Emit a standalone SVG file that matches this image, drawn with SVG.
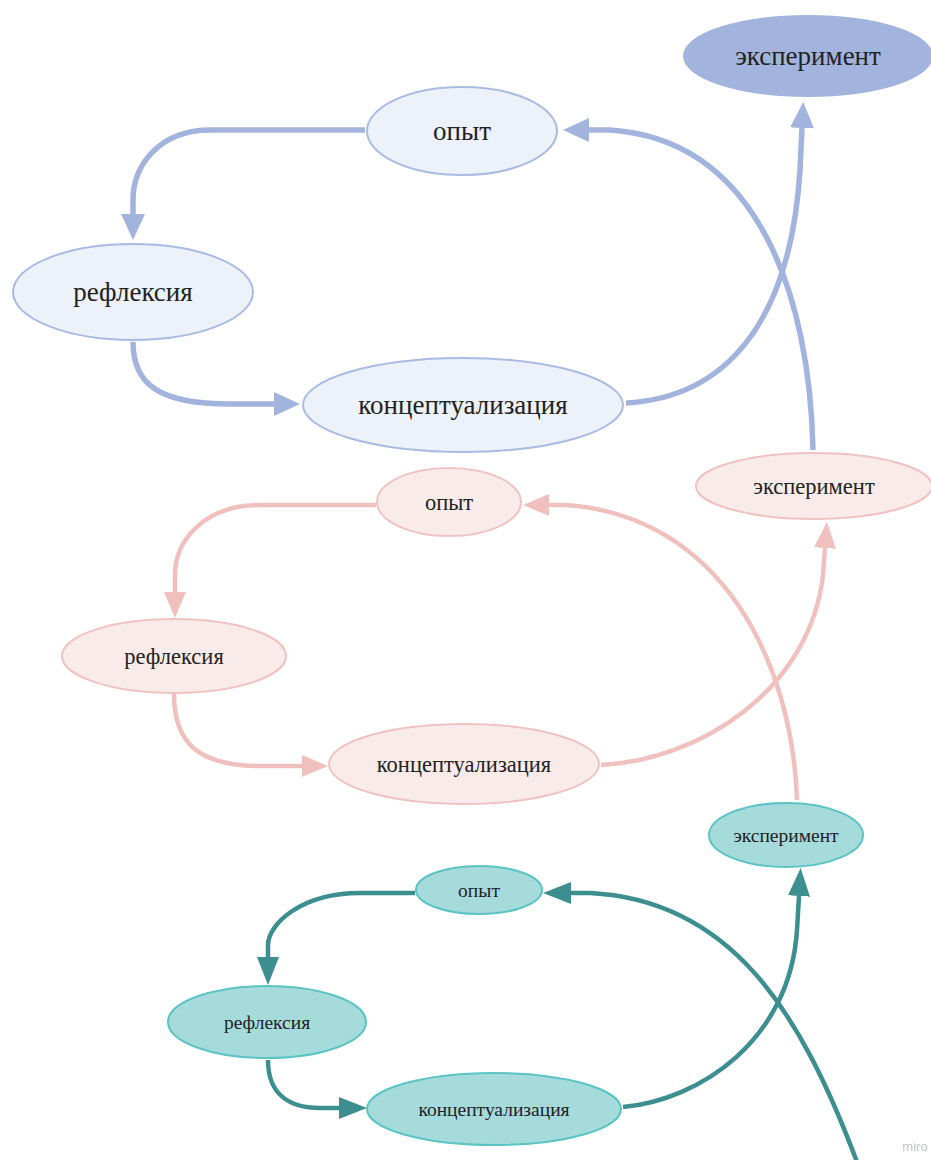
<svg xmlns="http://www.w3.org/2000/svg" width="931" height="1160" viewBox="0 0 931 1160">
<style>
text{font-family:"Liberation Serif","Times New Roman",serif;fill:#222;text-anchor:middle;dominant-baseline:central}
.b{fill:#edf1f9;stroke:#a9bbe3;stroke-width:2}
.bf{fill:#a2b4dd;stroke:#a2b4dd;stroke-width:2}
.p{fill:#f8ebea;stroke:#efc3c2;stroke-width:2}
.t{fill:#a6dbdc;stroke:#5cc3c4;stroke-width:2}
.cb{fill:none;stroke:#a2b4dd;stroke-width:5.5}
.cp{fill:none;stroke:#f0c0bf;stroke-width:4.5}
.ct{fill:none;stroke:#3d8e8f;stroke-width:4.5}
.tb{font-size:27px}.tp{font-size:22.5px}.tt{font-size:19.5px}
</style>
<defs>
<marker id="mb" markerUnits="userSpaceOnUse" markerWidth="26" markerHeight="24" viewBox="0 0 26 24" refX="0" refY="12" orient="auto"><path d="M0,0 L26,12 L0,24 z" fill="#a2b4dd"/></marker>
<marker id="mp" markerUnits="userSpaceOnUse" markerWidth="26" markerHeight="22" viewBox="0 0 26 22" refX="0" refY="11" orient="auto"><path d="M0,0 L26,11 L0,22 z" fill="#f0c0bf"/></marker>
<marker id="mt" markerUnits="userSpaceOnUse" markerWidth="28" markerHeight="22" viewBox="0 0 28 22" refX="0" refY="11" orient="auto"><path d="M0,0 L28,11 L0,22 z" fill="#3d8e8f"/></marker>
</defs>
<g id="connectors">
<path class="cb" marker-end="url(#mb)" d="M365,130 L210,130 C160,130 133,165 133,200 L133,214"/>
<path class="cb" marker-end="url(#mb)" d="M133,342 C133,385 160,404 230,404 L274,404"/>
<path class="cb" marker-end="url(#mb)" d="M626,403 C720,398 790,330 800,170 L802,128"/>
<path class="cb" marker-end="url(#mb)" d="M813,450 C810,300 760,140 610,130 L589,130"/>
<path class="cp" marker-end="url(#mp)" d="M376,505 L260,505 C205,505 175,540 175,575 L175,592"/>
<path class="cp" marker-end="url(#mp)" d="M174,694 C174,740 195,766 260,766 L302,766"/>
<path class="cp" marker-end="url(#mp)" d="M601,765 C700,760 810,690 823,575 L825,548"/>
<path class="cp" marker-end="url(#mp)" d="M797,800 C792,660 720,515 565,505 L549,505"/>
<path class="ct" marker-end="url(#mt)" d="M415,893 L360,893 C300,893 268,925 268,945 L268,957"/>
<path class="ct" marker-end="url(#mt)" d="M268,1060 C268,1095 290,1108 320,1108 L339,1108"/>
<path class="ct" marker-end="url(#mt)" d="M623,1107 C700,1100 790,1040 797,930 L799,896"/>
<path class="ct" marker-end="url(#mt)" d="M857,1162 C800,1010 730,900 590,893 L571,893"/>
</g>
<g id="b-exp"><ellipse class="bf" cx="808" cy="56" rx="124" ry="40"/><text class="tb" x="808" y="56">эксперимент</text></g>
<g id="b-opyt"><ellipse class="b" cx="462" cy="131" rx="95" ry="44"/><text class="tb" x="462" y="131">опыт</text></g>
<g id="b-refl"><ellipse class="b" cx="133" cy="292" rx="120" ry="48"/><text class="tb" x="133" y="292">рефлексия</text></g>
<g id="b-konc"><ellipse class="b" cx="463" cy="405" rx="160" ry="47"/><text class="tb" x="463" y="405">концептуализация</text></g>
<g id="p-exp"><ellipse class="p" cx="814" cy="486" rx="118" ry="33"/><text class="tp" x="814" y="486">эксперимент</text></g>
<g id="p-opyt"><ellipse class="p" cx="449" cy="502" rx="72" ry="34"/><text class="tp" x="449" y="502">опыт</text></g>
<g id="p-refl"><ellipse class="p" cx="174" cy="656" rx="112" ry="37"/><text class="tp" x="174" y="656">рефлексия</text></g>
<g id="p-konc"><ellipse class="p" cx="464" cy="764" rx="135" ry="40"/><text class="tp" x="464" y="764">концептуализация</text></g>
<g id="t-exp"><ellipse class="t" cx="786" cy="835" rx="77" ry="32"/><text class="tt" x="786" y="835">эксперимент</text></g>
<g id="t-opyt"><ellipse class="t" cx="479" cy="890" rx="63" ry="24"/><text class="tt" x="479" y="890">опыт</text></g>
<g id="t-refl"><ellipse class="t" cx="267" cy="1022" rx="99" ry="36"/><text class="tt" x="267" y="1022">рефлексия</text></g>
<g id="t-konc"><ellipse class="t" cx="494" cy="1109" rx="127" ry="36"/><text class="tt" x="494" y="1109">концептуализация</text></g>
<text x="915" y="1146" style="font-family:'Liberation Sans',Arial,sans-serif;font-size:13px;fill:#c4c4c4">miro</text>
</svg>
